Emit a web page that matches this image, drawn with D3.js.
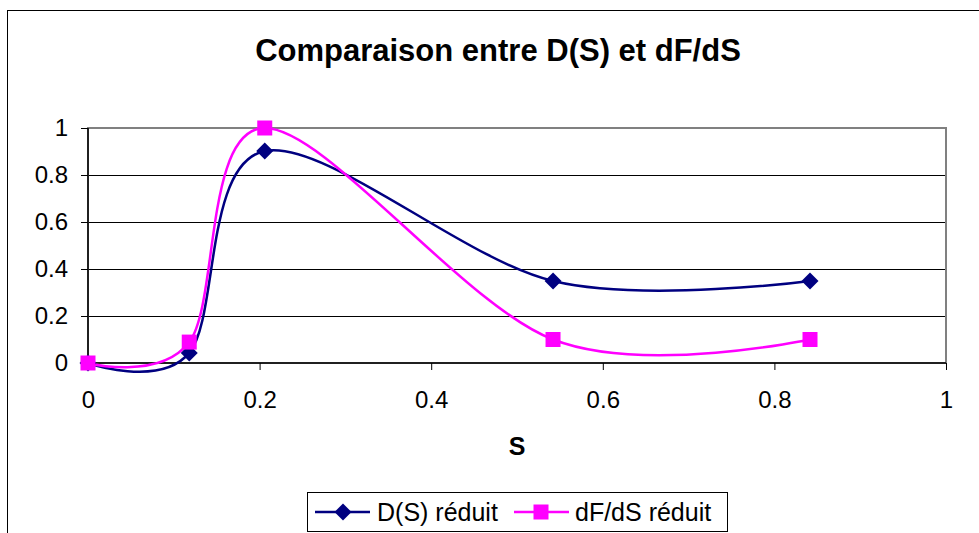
<!DOCTYPE html>
<html><head><meta charset="utf-8">
<script src="https://cdnjs.cloudflare.com/ajax/libs/d3/7.8.5/d3.min.js"></script>
<style>body{margin:0;background:#fff}svg{display:block;font-family:"Liberation Sans",Arial,sans-serif}</style>
</head><body><svg id="c" width="979" height="533"></svg>
<script>
const title = "Comparaison entre D(S) et dF/dS";
const xLabel = "S";
const sValues = [0, 0.118, 0.206, 0.542, 0.8415];
const dValues = [0, 0.043, 0.902, 0.349, 0.349];
const fValues = [0, 0.089, 1.0, 0.1, 0.1];
const seriesNames = ["D(S) réduit", "dF/dS réduit"];
const xTicks = [0, 0.2, 0.4, 0.6, 0.8, 1];
const yTicks = [0, 0.2, 0.4, 0.6, 0.8, 1];

const svg = d3.select("#c");
const L = 88, R = 946, T = 128, B = 363;
const x = d3.scaleLinear().domain([0, 1]).range([L, R]);
const y = d3.scaleLinear().domain([0, 1]).range([B, T]);
const FONT = "Liberation Sans, Arial, sans-serif";

// chart border
svg.append("rect").attr("x", 7.5).attr("y", 10.5).attr("width", 990).attr("height", 540)
  .attr("fill", "#fff").attr("stroke", "#000").attr("stroke-width", 1);

svg.append("text").attr("x", 498).attr("y", 61).attr("text-anchor", "middle")
  .attr("font-weight", "bold").attr("font-size", 31).text(title);

// gridlines
svg.append("g").selectAll("line").data(yTicks.filter(d => d > 0 && d < 1)).join("line")
  .attr("x1", L).attr("x2", R).attr("y1", d => Math.round(y(d)) + 0.5).attr("y2", d => Math.round(y(d)) + 0.5)
  .attr("stroke", "#000").attr("stroke-width", 1);

// plot border (grey)
svg.append("rect").attr("x", L).attr("y", T).attr("width", R - L).attr("height", B - T)
  .attr("fill", "none").attr("stroke", "#808080").attr("stroke-width", 2);

// axes
const yAxis = d3.axisLeft(y).tickValues(yTicks).tickSize(7).tickPadding(13).tickFormat(d3.format("~g"));
const gy = svg.append("g").attr("transform", `translate(${L},0)`).call(yAxis);
const xAxis = d3.axisBottom(x).tickValues(xTicks).tickSize(7).tickPadding(21).tickFormat(d3.format("~g"));
const gx = svg.append("g").attr("transform", `translate(0,${B})`).call(xAxis);
[gx, gy].forEach(g => {
  g.attr("font-size", 24).attr("font-family", FONT);
  g.select(".domain").attr("stroke", "#000").attr("stroke-width", 1.5);
  g.selectAll(".tick line").attr("stroke", "#000");
  g.selectAll("text").attr("font-size", 24).attr("fill", "#000").attr("font-family", FONT);
});
gx.select(".domain").attr("d", `M${L},0H${R}`);
gy.select(".domain").attr("d", `M0,${B}V${T}`);

svg.append("text").attr("x", 517).attr("y", 455).attr("text-anchor", "middle")
  .attr("font-weight", "bold").attr("font-size", 25).text(xLabel);

const line = d3.line().x(d => x(d[0])).y(d => y(d[1])).curve(d3.curveCatmullRom.alpha(0));
const dData = sValues.map((s, i) => [s, dValues[i]]);
const fData = sValues.map((s, i) => [s, fValues[i]]);
const navy = "#000080", mag = "#ff00ff";

svg.append("path").datum(dData).attr("d", line).attr("fill", "none").attr("stroke", navy).attr("stroke-width", 2.5);
svg.append("path").datum(fData).attr("d", line).attr("fill", "none").attr("stroke", mag).attr("stroke-width", 2.5);

function drawDiamond(g, cx, cy, r) {
  g.append("path").attr("d", `M${cx},${cy - r}L${cx + r},${cy}L${cx},${cy + r}L${cx - r},${cy}Z`).attr("fill", navy);
}
function drawSquare(g, cx, cy, h) {
  g.append("rect").attr("x", cx - h).attr("y", cy - h).attr("width", 2 * h).attr("height", 2 * h).attr("fill", mag);
}
const mk = svg.append("g");
dData.forEach(d => drawDiamond(mk, x(d[0]), y(d[1]), 8.5));
fData.forEach(d => drawSquare(mk, x(d[0]), y(d[1]), 7.5));

// legend
const lg = svg.append("g");
lg.append("rect").attr("x", 307.5).attr("y", 492.5).attr("width", 420).attr("height", 39)
  .attr("fill", "#fff").attr("stroke", "#000").attr("stroke-width", 1);
const items = [{name: seriesNames[0], c: navy, x0: 315, tx: 377}, {name: seriesNames[1], c: mag, x0: 514, tx: 575}];
items.forEach((it, i) => {
  lg.append("line").attr("x1", it.x0).attr("x2", it.x0 + 55).attr("y1", 512).attr("y2", 512)
    .attr("stroke", it.c).attr("stroke-width", 2.5);
  if (i === 0) drawDiamond(lg, it.x0 + 28, 512, 8.5); else drawSquare(lg, it.x0 + 27, 512, 7.5);
  lg.append("text").attr("x", it.tx).attr("y", 521).attr("font-size", 25).text(it.name);
});
</script></body></html>
